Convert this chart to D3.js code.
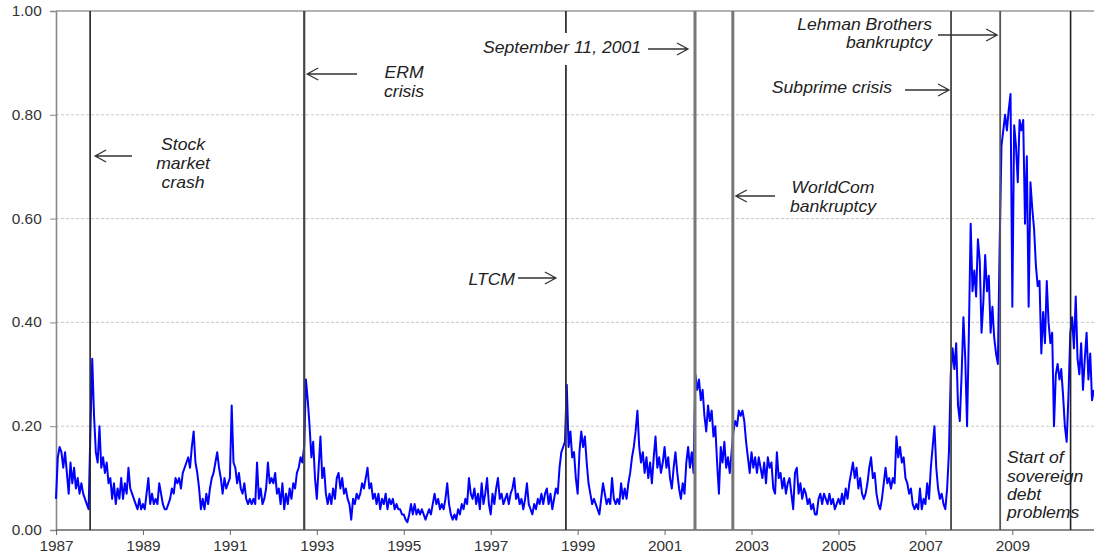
<!DOCTYPE html>
<html><head><meta charset="utf-8">
<script src="https://cdn.jsdelivr.net/npm/d3@7"></script>
<style>body{margin:0;background:#fff}svg{display:block}</style>
</head><body><svg id="c" width="1094" height="558"></svg>
<script>
// ---- data ----
const startYear = 1987;
const stepsPerYear = 24; // semi-monthly observations
const correlation = [
  // 1987
  0.06,0.14,0.16,0.15,0.12,0.15,0.11,0.07,0.13,0.09,0.12,0.08,0.10,0.07,0.09,0.07,0.06,0.05,0.04,0.19,0.33,0.22,0.15,0.13,
  // 1988
  0.20,0.12,0.14,0.11,0.13,0.09,0.10,0.06,0.09,0.05,0.08,0.06,0.10,0.06,0.09,0.07,0.12,0.08,0.07,0.06,0.05,0.04,0.06,0.04,
  // 1989
  0.05,0.04,0.07,0.10,0.05,0.07,0.05,0.06,0.05,0.09,0.07,0.05,0.04,0.04,0.05,0.06,0.08,0.07,0.10,0.09,0.10,0.08,0.11,0.12,
  // 1990
  0.13,0.14,0.12,0.16,0.19,0.13,0.11,0.08,0.04,0.06,0.04,0.07,0.05,0.08,0.10,0.11,0.13,0.15,0.12,0.10,0.07,0.10,0.08,0.09,
  // 1991
  0.10,0.24,0.13,0.12,0.09,0.11,0.08,0.07,0.09,0.06,0.05,0.06,0.05,0.06,0.05,0.13,0.06,0.08,0.05,0.06,0.08,0.13,0.09,0.10,
  // 1992
  0.09,0.11,0.07,0.08,0.05,0.09,0.04,0.07,0.05,0.08,0.06,0.09,0.08,0.11,0.12,0.14,0.13,0.16,0.29,0.25,0.20,0.14,0.17,0.10,
  // 1993
  0.06,0.12,0.18,0.10,0.12,0.07,0.05,0.07,0.05,0.08,0.06,0.10,0.11,0.08,0.10,0.07,0.08,0.06,0.05,0.02,0.06,0.05,0.07,0.06,
  // 1994
  0.07,0.09,0.08,0.10,0.12,0.08,0.09,0.06,0.07,0.05,0.07,0.04,0.06,0.05,0.07,0.04,0.06,0.05,0.06,0.04,0.05,0.04,0.04,0.03,
  // 1995
  0.03,0.02,0.015,0.03,0.05,0.03,0.05,0.03,0.04,0.03,0.04,0.03,0.02,0.03,0.04,0.03,0.05,0.07,0.05,0.06,0.04,0.05,0.04,0.06,
  // 1996
  0.09,0.05,0.03,0.02,0.03,0.02,0.04,0.03,0.05,0.04,0.06,0.05,0.10,0.07,0.06,0.08,0.05,0.07,0.04,0.09,0.05,0.07,0.10,0.05,
  // 1997
  0.03,0.07,0.05,0.08,0.10,0.06,0.07,0.05,0.06,0.07,0.05,0.07,0.08,0.10,0.06,0.07,0.05,0.06,0.04,0.06,0.09,0.05,0.04,0.03,
  // 1998
  0.05,0.04,0.06,0.05,0.07,0.05,0.07,0.08,0.05,0.07,0.04,0.06,0.08,0.07,0.12,0.15,0.16,0.17,0.28,0.16,0.19,0.14,0.15,0.10,
  // 1999
  0.07,0.15,0.19,0.16,0.18,0.13,0.09,0.07,0.05,0.06,0.05,0.04,0.03,0.06,0.09,0.07,0.05,0.06,0.05,0.10,0.06,0.05,0.06,0.05,
  // 2000
  0.09,0.06,0.08,0.06,0.09,0.11,0.14,0.16,0.19,0.23,0.16,0.13,0.15,0.11,0.14,0.10,0.13,0.09,0.14,0.18,0.12,0.14,0.11,0.13,
  // 2001
  0.16,0.12,0.14,0.10,0.08,0.12,0.15,0.11,0.08,0.06,0.09,0.07,0.13,0.16,0.12,0.15,0.11,0.30,0.27,0.29,0.25,0.27,0.22,0.19,
  // 2002
  0.24,0.21,0.23,0.18,0.20,0.13,0.07,0.16,0.13,0.17,0.12,0.14,0.11,0.15,0.19,0.21,0.20,0.23,0.22,0.23,0.21,0.17,0.14,0.11,
  // 2003
  0.15,0.12,0.14,0.11,0.14,0.12,0.10,0.13,0.09,0.14,0.12,0.13,0.08,0.07,0.15,0.10,0.11,0.08,0.10,0.07,0.09,0.10,0.07,0.04,
  // 2004
  0.11,0.12,0.07,0.09,0.06,0.08,0.07,0.05,0.06,0.04,0.05,0.03,0.03,0.06,0.07,0.05,0.07,0.06,0.05,0.07,0.05,0.06,0.04,0.05,
  // 2005
  0.06,0.05,0.07,0.05,0.08,0.06,0.09,0.11,0.13,0.10,0.12,0.08,0.10,0.07,0.06,0.07,0.09,0.12,0.14,0.10,0.11,0.07,0.05,0.04,
  // 2006
  0.06,0.09,0.12,0.09,0.10,0.08,0.10,0.09,0.18,0.14,0.16,0.13,0.14,0.10,0.09,0.07,0.08,0.05,0.04,0.05,0.04,0.08,0.04,0.06,
  // 2007
  0.05,0.09,0.06,0.12,0.16,0.20,0.12,0.08,0.06,0.07,0.05,0.04,0.08,0.15,0.30,0.35,0.31,0.36,0.24,0.21,0.30,0.41,0.33,0.20,
  // 2008
  0.38,0.59,0.46,0.50,0.45,0.56,0.52,0.38,0.44,0.53,0.46,0.49,0.38,0.43,0.37,0.34,0.32,0.55,0.74,0.77,0.80,0.77,0.81,0.84,
  // 2009
  0.43,0.78,0.74,0.67,0.79,0.77,0.79,0.59,0.72,0.43,0.67,0.62,0.58,0.51,0.47,0.48,0.34,0.42,0.36,0.48,0.40,0.36,0.38,0.20,
  // 2010
  0.30,0.32,0.29,0.31,0.26,0.20,0.17,0.26,0.38,0.41,0.35,0.45,0.33,0.30,0.36,0.27,0.33,0.38,0.29,0.34,0.25,0.27
];
const yTickValues = [0, 0.2, 0.4, 0.6, 0.8, 1.0];
const xTickYears = [1987,1989,1991,1993,1995,1997,1999,2001,2003,2005,2007,2009];
const eventNames = ["Stock market crash","ERM crisis","LTCM","September 11, 2001","WorldCom bankruptcy","Subprime crisis","Lehman Brothers bankruptcy","Start of sovereign debt problems"];
const eventDates = [1987.785, 1992.71, 1998.73, 2001.70, 2002.57, 2007.59, 2008.72, 2010.34];

// ---- layout ----
const svg = d3.select("#c");
const x = d3.scaleLinear().domain([1987, 2011]).range([56, 56 + 24 * 43.47]);
const y = d3.scaleLinear().domain([0, 1]).range([530, 11]);
const right = 1094;
const font = "Liberation Sans, Arial, sans-serif";
const series = correlation.map((v, i) => ({t: startYear + i / stepsPerYear, v}));

// grid
svg.append("g").selectAll("line").data(yTickValues.filter(d => d > 0 && d < 1)).join("line")
  .attr("x1", 56).attr("x2", right).attr("y1", d => y(d)).attr("y2", d => y(d))
  .attr("stroke", "#c8c8c8").attr("stroke-width", 1).attr("stroke-dasharray", "3,2");
// top border
svg.append("line").attr("x1", 56).attr("x2", right).attr("y1", y(1)).attr("y2", y(1))
  .attr("stroke", "#999").attr("stroke-width", 1.5);

// y axis
const yAxis = d3.axisLeft(y).tickValues(yTickValues).tickFormat(d3.format(".2f")).tickSize(6).tickPadding(7);
const gy = svg.append("g").attr("transform", "translate(56,0)").call(yAxis);
gy.select(".domain").attr("stroke", "#888").attr("stroke-width", 1.6);
gy.selectAll(".tick line").attr("stroke", "#888");
gy.selectAll(".tick text").attr("fill", "#333").attr("font-family", font)
  .attr("font-size", 14).attr("transform", "scale(1.1,1)");

// x axis
const xAxis = d3.axisBottom(x).tickValues(xTickYears).tickFormat(d3.format("d")).tickSize(5).tickPadding(6);
const gx = svg.append("g").attr("transform", "translate(0,530)").call(xAxis);
gx.select(".domain").attr("d", `M56,0H${right}`).attr("stroke", "#666").attr("stroke-width", 1.6);
gx.selectAll(".tick line").attr("stroke", "#666");
gx.selectAll(".tick text").attr("fill", "#333").attr("font-family", font)
  .attr("font-size", 14).attr("transform", "scale(1.1,1)");

// data line
svg.append("path").datum(series)
  .attr("fill", "none").attr("stroke", "#0000ff").attr("stroke-width", 2).attr("stroke-linejoin", "round")
  .attr("d", d3.line().x(d => x(d.t)).y(d => y(d.v)));

// event lines
const eventStyle = [
  {c: "#222", w: 1.6}, {c: "#444", w: 2.2}, {c: "#333", w: 1.8}, {c: "#777", w: 3},
  {c: "#777", w: 3}, {c: "#444", w: 1.8}, {c: "#555", w: 1.8}, {c: "#222", w: 1.6}
];
svg.append("g").selectAll("line").data(eventDates).join("line")
  .attr("x1", d => x(d)).attr("x2", d => x(d)).attr("y1", y(1)).attr("y2", y(0))
  .attr("stroke", (d, i) => eventStyle[i].c).attr("stroke-width", (d, i) => eventStyle[i].w);

// annotations
const notes = [
  {ev: 0, lines: ["Stock", "market", "crash"], anchor: "middle", tx: 183, base: [150, 169, 188], arrow: {y: 156, from: 132, off: 5}},
  {ev: 1, lines: ["ERM", "crisis"], anchor: "middle", tx: 404, base: [78, 97], arrow: {y: 74, from: 357, off: 3}},
  {ev: 2, lines: ["LTCM"], anchor: "end", tx: 515, base: [285], arrow: {y: 278, from: 518, off: -10}},
  {ev: 3, lines: ["September 11, 2001"], anchor: "end", tx: 641, base: [53], arrow: {y: 49, from: 648, off: -7}, bg: [476, 33, 168, 32]},
  {ev: 4, lines: ["WorldCom", "bankruptcy"], anchor: "middle", tx: 833, base: [193, 212], arrow: {y: 196, from: 775, off: 3}},
  {ev: 5, lines: ["Subprime crisis"], anchor: "end", tx: 892, base: [93], arrow: {y: 90, from: 905, off: -2}},
  {ev: 6, lines: ["Lehman Brothers", "bankruptcy"], anchor: "end", tx: 932, base: [30, 48], arrow: {y: 35, from: 938, off: -3}},
  {ev: 7, lines: ["Start of", "sovereign", "debt", "problems"], anchor: "start", tx: 1007, base: [463, 482, 500, 518]}
];
const ng = svg.append("g");
notes.forEach(n => {
  if (n.bg) ng.append("rect").attr("x", n.bg[0]).attr("y", n.bg[1]).attr("width", n.bg[2]).attr("height", n.bg[3]).attr("fill", "#fff");
  n.lines.forEach((t, k) => {
    ng.append("text").attr("transform", `translate(${n.tx},${n.base[k]}) scale(1.1,1)`)
      .attr("text-anchor", n.anchor).attr("font-family", font).attr("font-style", "italic")
      .attr("font-size", 16).attr("fill", "#222").text(t);
  });
  if (n.arrow) {
    const tip = x(eventDates[n.ev]) + n.arrow.off;
    const dir = tip < n.arrow.from ? 1 : -1; // head points toward tip
    ng.append("path")
      .attr("d", `M${n.arrow.from},${n.arrow.y}H${tip}M${tip + dir * 11},${n.arrow.y - 6}L${tip},${n.arrow.y}L${tip + dir * 11},${n.arrow.y + 6}`)
      .attr("fill", "none").attr("stroke", "#333").attr("stroke-width", 1.3);
  }
});
</script></body></html>
